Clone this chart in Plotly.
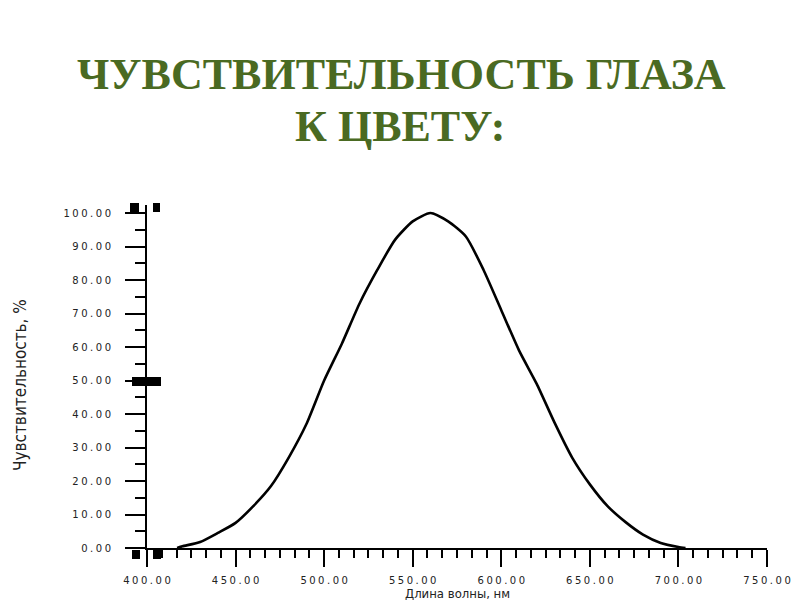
import plotly.graph_objects as go

# ---- data ----
wavelength_nm = [417, 420, 430, 440, 450, 460, 470, 480, 490, 500, 510, 520, 530, 540,
                 550, 560, 570, 580, 590, 600, 610, 620, 630, 640, 650, 660, 670, 680,
                 690, 700, 704]
sensitivity_pct = [0, 0.5, 1.8, 4.5, 7.5, 12.5, 18.5, 27, 37, 50, 61, 73, 83, 92,
                   97.5, 100, 97.5, 93, 83, 71, 59, 49, 37.5, 27, 19, 12.5, 7.8, 4,
                   1.5, 0.3, 0]

x_tick_values = [400, 450, 500, 550, 600, 650, 700, 750]
y_tick_values = [0, 10, 20, 30, 40, 50, 60, 70, 80, 90, 100]

title_line1 = "ЧУВСТВИТЕЛЬНОСТЬ ГЛАЗА"
title_line2 = "К ЦВЕТУ:"
y_title = "Чувствительность, %"
x_title = "Длина волны, нм"

SP = "\u2005"


def spaced(s):
    return SP.join(list(s))


x_tick_text = [spaced(f"{v:.2f}") for v in x_tick_values]
y_tick_text = [spaced(f"{v:.2f}") for v in y_tick_values]

# ---- layout geometry (pixels in the screenshot; page body adds 8px offset) ----
OFF = 8
W, H = 800, 600
L, R = 147 - OFF, 767 - OFF
B, T = 548 - OFF, 205 - OFF


def px_x(px):
    return (px - OFF - L) / (R - L)


def px_y(py):
    return (B - (py - OFF)) / (B - T)


fig = go.Figure()
fig.add_trace(go.Scatter(
    x=wavelength_nm, y=sensitivity_pct, mode="lines",
    line=dict(color="black", width=2.6, shape="spline", smoothing=0.6),
    hoverinfo="skip", showlegend=False,
))

tick_font = dict(family="DejaVu Sans, Arial, sans-serif", size=10, color="#222222")
narrow = "Liberation Sans Narrow, DejaVu Sans Condensed, Arial Narrow, sans-serif"

fig.update_layout(
    width=W, height=H,
    margin=dict(l=L, r=W - R, t=T, b=H - B),
    paper_bgcolor="white", plot_bgcolor="white",
    xaxis=dict(
        range=[400, 750], showgrid=False, zeroline=False,
        showline=True, linecolor="black", linewidth=2,
        ticks="outside", ticklen=17, tickwidth=2, tickcolor="black",
        tickvals=x_tick_values, ticktext=x_tick_text, tickfont=tick_font,
        ticklabelstandoff=5,
        minor=dict(dtick=50 / 6, tick0=400, ticks="outside", ticklen=8,
                   tickwidth=1.5, tickcolor="black", showgrid=False),
    ),
    yaxis=dict(
        range=[0, 102.4], showgrid=False, zeroline=False,
        showline=True, linecolor="black", linewidth=2,
        ticks="outside", ticklen=20, tickwidth=2, tickcolor="black",
        tickvals=y_tick_values, ticktext=y_tick_text, tickfont=tick_font,
        ticklabelstandoff=12,
        minor=dict(dtick=5, tick0=0, ticks="outside", ticklen=10,
                   tickwidth=1.5, tickcolor="black", showgrid=False),
    ),
    showlegend=False,
)

green = "#4a6a22"
title_font = dict(family="Liberation Serif, Times New Roman, serif", size=44,
                  color=green, weight="bold")
fig.add_annotation(text=title_line1, xref="paper", yref="paper",
                   x=px_x(401), y=px_y(74), xanchor="center", yanchor="middle",
                   showarrow=False, font=title_font)
fig.add_annotation(text=title_line2, xref="paper", yref="paper",
                   x=px_x(400), y=px_y(126), xanchor="center", yanchor="middle",
                   showarrow=False, font=title_font)

fig.add_annotation(text=y_title, xref="paper", yref="paper",
                   x=px_x(20), y=px_y(385), xanchor="center", yanchor="middle",
                   textangle=-90, showarrow=False,
                   font=dict(family=narrow, size=17, color="#222222"))
fig.add_annotation(text=x_title, xref="paper", yref="paper",
                   x=px_x(457), y=px_y(584), xanchor="center", yanchor="top",
                   showarrow=False,
                   font=dict(family=narrow, size=13, color="#222222"))

# axis-break decorations (small black blocks) in screenshot pixel positions
blocks = [(130, 203, 139, 212), (153, 203, 160, 212),
          (132, 377, 161, 386),
          (132, 550, 140, 559), (153, 550, 161, 559)]
for x0, y0, x1, y1 in blocks:
    fig.add_shape(type="rect", xref="paper", yref="paper",
                  x0=px_x(x0), x1=px_x(x1), y0=px_y(y1), y1=px_y(y0),
                  fillcolor="black", line=dict(width=0), layer="above")

fig.write_html("out.html")
